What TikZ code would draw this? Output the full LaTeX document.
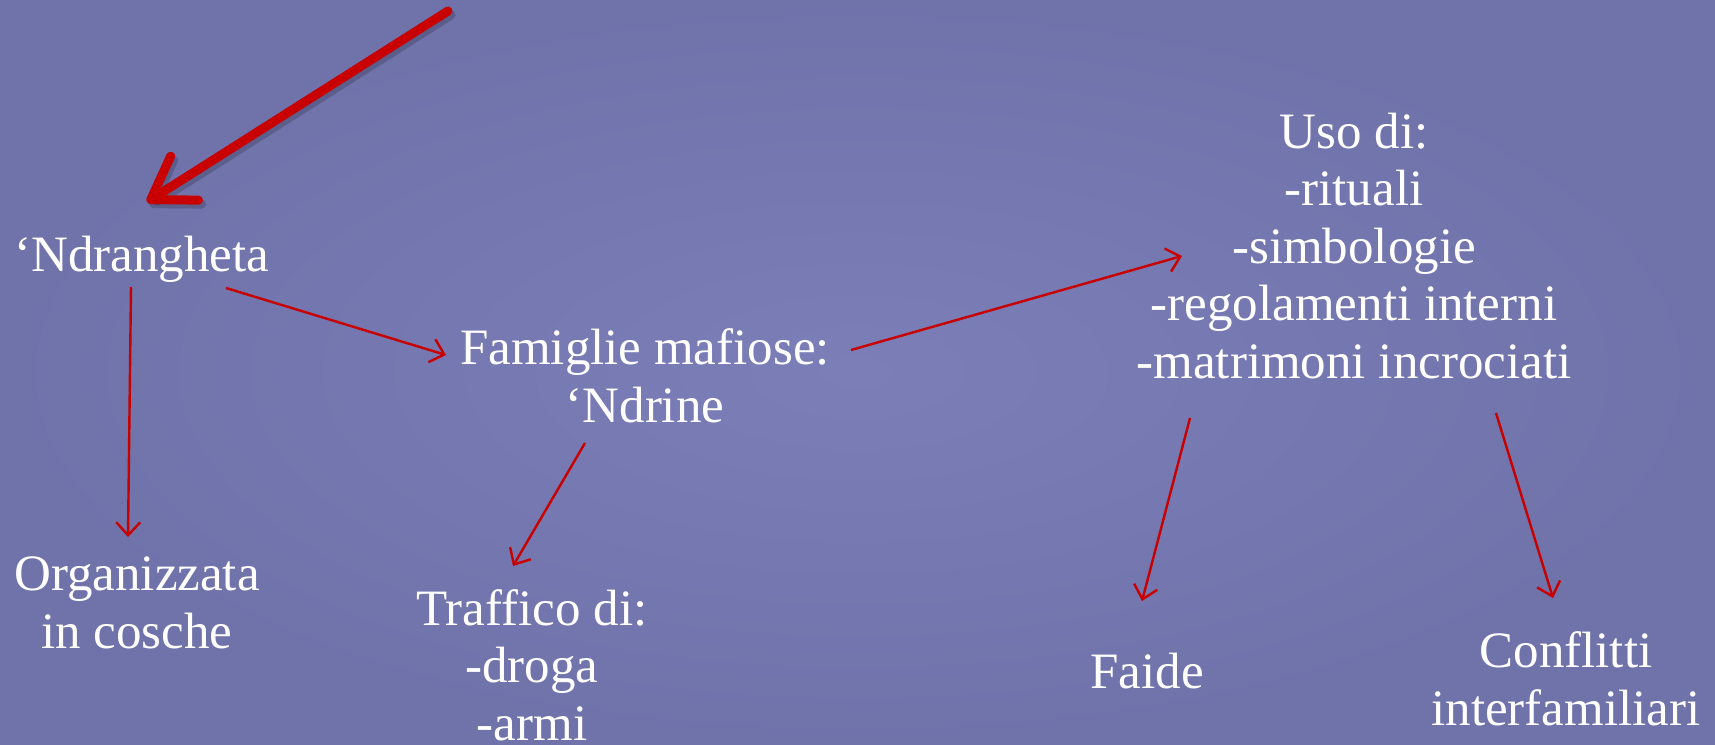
\documentclass[tikz,border=0pt]{standalone}
\usepackage{fontspec}
\setmainfont{Liberation Serif}
\usetikzlibrary{arrows.meta,calc}
\definecolor{bg}{RGB}{124,126,184}
\definecolor{bgdark}{RGB}{112,114,170}
\definecolor{arr}{RGB}{200,0,0}
\begin{document}
\begin{tikzpicture}[x=1pt,y=-1pt,
  lbl/.style={text=white,font=\fontsize{51}{57.5}\selectfont,align=center,inner sep=0pt,anchor=base},
  link/.style={draw=arr,line width=2.4pt,-{Straight Barb[length=13pt,width=24pt]}},
  bigarrow/.style={draw=arr,line width=9pt,line cap=round,-{Straight Barb[length=40pt,width=52pt,round]}},
  bigshadow/.style={draw=black,opacity=0.18,line width=9pt,line cap=round,-{Straight Barb[length=40pt,width=52pt,round]}}]
\useasboundingbox (0,0) rectangle (1715,744);
\fill[bgdark] (0,0) rectangle (1715,744);
\shade[inner color=bg,outer color=bgdark] (0,0) rectangle (1715,744);

% base anchor = baseline of the last line
\node[lbl] (nd) at (142,271) {‘Ndrangheta};
\node[lbl] (org) at (137,648) {Organizzata\\in cosche};
\node[lbl] (fam) at (645,422) {Famiglie mafiose:\\‘Ndrine};
\node[lbl] (traf) at (532,740) {Traffico di:\\-droga\\-armi};
\node[lbl] (uso) at (1354,378) {Uso di:\\-rituali\\-simbologie\\-regolamenti interni\\-matrimoni incrociati};
\node[lbl] (faide) at (1147,688) {Faide};
\node[lbl] (conf) at (1566,725) {Conflitti\\interfamiliari};

\coordinate (tail) at (448,11);
\begin{scope}[transform canvas={xshift=3pt,yshift=-4pt}]
\draw[bigshadow] (tail) -- ($(nd.base)+(5,-69)$);
\end{scope}
\draw[bigarrow] (tail) -- ($(nd.base)+(5,-69)$);

\draw[link] ($(nd.base)+(-11,16)$) -- ($(org.base)+(-9,-111)$);
\draw[link] ($(nd.base)+(84,17)$) -- ($(fam.base)+(-199,-67)$);
\draw[link] ($(fam.base)+(-60,21)$) -- ($(traf.base)+(-19,-174)$);
\draw[link] ($(fam.base)+(206,-72)$) -- ($(uso.base)+(-172,-122)$);
\draw[link] ($(uso.base)+(-164,40)$) -- ($(faide.base)+(-5,-87)$);
\draw[link] ($(uso.base)+(142,35)$) -- ($(conf.base)+(-13,-127)$);
\end{tikzpicture}
\end{document}
